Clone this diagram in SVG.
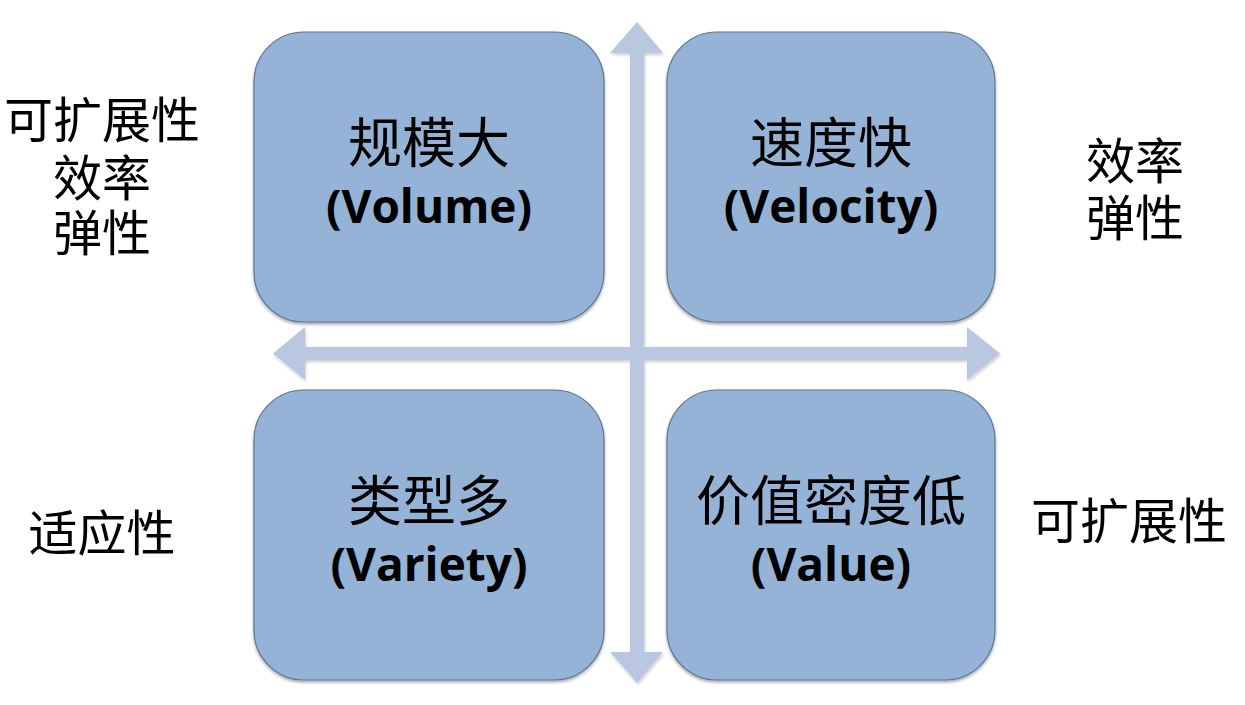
<svg xmlns="http://www.w3.org/2000/svg" width="1245" height="705" viewBox="0 0 1245 705">
<defs>
<filter id="sh" x="-10%" y="-10%" width="120%" height="125%">
<feDropShadow dx="0" dy="2" stdDeviation="1.5" flood-color="#000" flood-opacity="0.35"/>
</filter>
<filter id="ash" x="-10%" y="-10%" width="120%" height="120%">
<feDropShadow dx="1" dy="2" stdDeviation="1.5" flood-color="#000" flood-opacity="0.2"/>
</filter>
</defs>
<style>
.box{fill:#95B3D7;stroke:#5E7391;stroke-width:1.2;filter:url(#sh)}
.arr{fill:#B9C7E0;filter:url(#ash)}
.cjk{font-family:"Noto Sans CJK SC","Noto Sans",sans-serif;font-size:49px;fill:#000;text-anchor:middle}
.big{font-size:54px}
.lat{font-family:"Open Sans","Noto Sans",sans-serif;font-weight:700;font-size:46px;fill:#000;text-anchor:middle}
</style>
<rect width="1245" height="705" fill="#fff"/>
<g id="connectors">
<polygon class="arr" points="637,22 663,53 644,53 644,347 967,347 967,327 1000,353.5 967,380 967,360 644,360 644,652 663,652 637,683 610,652 630,652 630,360 305,360 305,380 273,353.5 305,327 305,347 630,347 630,53 610,53"/>
</g>
<g id="volume">
<rect class="box" x="254" y="32" width="350" height="290" rx="50"/>
<text class="cjk big" x="429" y="163">规模大</text>
<text class="lat" x="429" y="223">(Volume)</text>
</g>
<g id="velocity">
<rect class="box" x="667" y="32" width="328" height="290" rx="50"/>
<text class="cjk big" x="831" y="163">速度快</text>
<text class="lat" x="831" y="223">(Velocity)</text>
</g>
<g id="variety">
<rect class="box" x="254" y="390" width="350" height="290" rx="50"/>
<text class="cjk big" x="429" y="521">类型多</text>
<text class="lat" x="429" y="581">(Variety)</text>
</g>
<g id="value">
<rect class="box" x="667" y="390" width="328" height="290" rx="50"/>
<text class="cjk big" x="831" y="521">价值密度低</text>
<text class="lat" x="831" y="581">(Value)</text>
</g>
<g id="left-top">
<text class="cjk" x="102" y="138">可扩展性</text>
<text class="cjk" x="102" y="196">效率</text>
<text class="cjk" x="102" y="251">弹性</text>
</g>
<g id="right-top">
<text class="cjk" x="1135" y="179">效率</text>
<text class="cjk" x="1135" y="236">弹性</text>
</g>
<g id="left-bottom">
<text class="cjk" x="102" y="551">适应性</text>
</g>
<g id="right-bottom">
<text class="cjk" x="1129" y="539">可扩展性</text>
</g>
</svg>
